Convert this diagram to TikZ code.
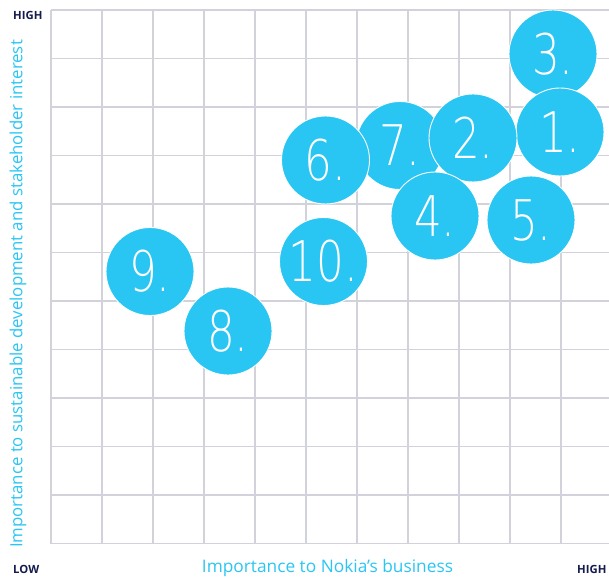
\documentclass[tikz,border=0pt]{standalone}
\usepackage{fontspec}
\setmainfont{Open Sans}
\newfontfamily\numfont{DejaVu Sans ExtraLight}[FakeStretch=0.78]
\definecolor{nokiacyan}{HTML}{29C5F3}
\definecolor{gridgray}{HTML}{D2D2DA}
\definecolor{navy}{HTML}{141B4D}
\begin{document}
\begin{tikzpicture}[x=1pt,y=-1pt,
  gridline/.style={gridgray,line width=1.3pt},
  bub/.style={circle,minimum size=88pt,inner sep=0pt,fill=nokiacyan,draw=white,line width=0.9pt,
    text=white,font=\numfont\fontsize{56}{56}\selectfont},
  axislbl/.style={text=nokiacyan,inner sep=0pt},
  endlbl/.style={text=navy,font=\bfseries\fontsize{11.3}{12}\selectfont,inner sep=0pt}]
\useasboundingbox (0,0) rectangle (609,577);
% grid
\foreach \i in {0,...,11} {
  \draw[gridline] (51,10+48.5*\i) -- (609,10+48.5*\i);
}
\foreach \i in {0,...,10} {
  \draw[gridline] (51+51*\i,10) -- (51+51*\i,543.5);
}
% bubbles
\node[bub] (c3) at (553,54) {3.};
\node[bub] (c1) at (560,132) {1.};
\node[bub] (c7) at (400,145.5) {7.};
\node[bub] (c2) at (473,138) {2.};
\node[bub] (c6) at (325.5,160) {6.};
\node[bub] (c4) at (435,216) {4.};
\node[bub] (c5) at (531,220) {5.};
\node[bub] (c9) at (150,271.5) {9.};
\node[bub] (c10) at (323.5,261.5) {10.};
\node[bub] (c8) at (228,331) {8.};
% labels
\node[endlbl,anchor=west] (hightop) at (13,15.5) {HIGH};
\node[endlbl,anchor=west] (low) at (13,569) {LOW};
\node[endlbl,anchor=west] (highright) at (577,569) {HIGH};
\node[axislbl,font=\fontsize{17.3}{18}\selectfont] (xlbl) at (327.5,568) {Importance to Nokia’s business};
\node[axislbl,font=\fontsize{16.8}{17}\selectfont,rotate=90] (ylbl) at (18,294) {Importance to sustainable development and stakeholder interest};
\end{tikzpicture}
\end{document}
